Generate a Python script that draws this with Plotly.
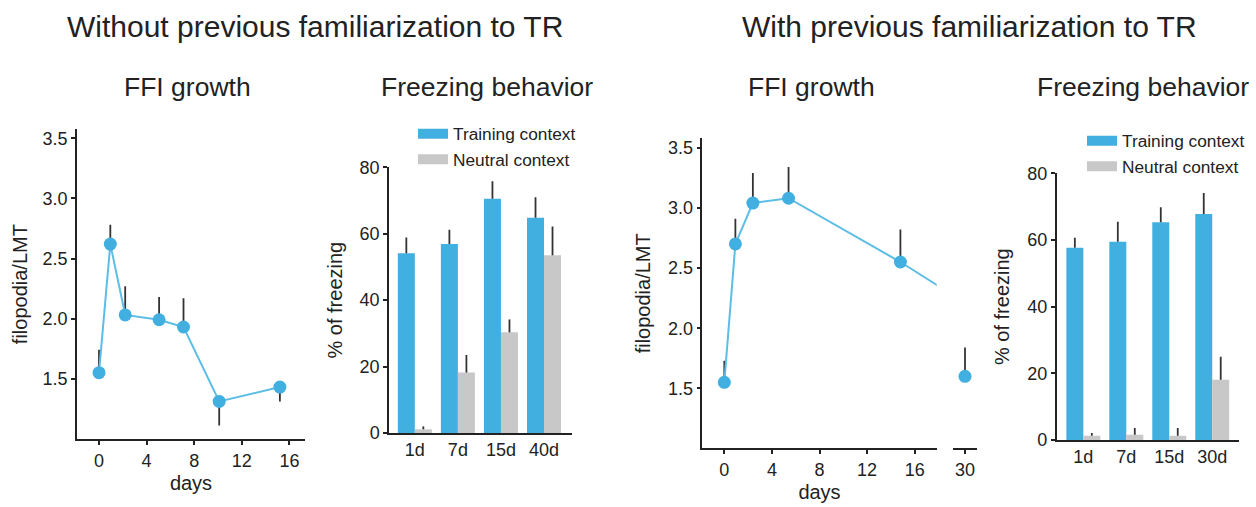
import plotly.graph_objects as go

W, H = 1256, 507

# ---------------- data ----------------
# Without previous familiarization: FFI growth
ffi_days_a = [0, 0.95, 2.2, 5.05, 7.1, 10.1, 15.2]
ffi_vals_a = [1.55, 2.62, 2.03, 1.99, 1.93, 1.31, 1.43]
ffi_err_up_a = [0.19, 0.16, 0.24, 0.19, 0.24, 0.0, 0.0]
ffi_err_dn_a = [0.0, 0.0, 0.0, 0.0, 0.0, 0.20, 0.12]

# With previous familiarization: FFI growth
ffi_days_b = [0, 0.93, 2.4, 5.4, 14.8, 30]
ffi_vals_b = [1.55, 2.70, 3.04, 3.08, 2.55, 1.60]
ffi_err_up_b = [0.18, 0.21, 0.25, 0.26, 0.27, 0.24]
ffi_err_dn_b = [0.0, 0.0, 0.0, 0.0, 0.0, 0.0]

# Freezing behavior (without)
freeze_cats_a = ["1d", "7d", "15d", "40d"]
train_a = [54.1, 56.9, 70.5, 64.8]
train_err_a = [4.8, 4.3, 5.3, 6.2]
neutral_a = [1.1, 18.2, 30.3, 53.5]
neutral_err_a = [0.9, 5.3, 3.9, 8.7]

# Freezing behavior (with)
freeze_cats_b = ["1d", "7d", "15d", "30d"]
train_b = [57.7, 59.5, 65.3, 67.8]
train_err_b = [3.0, 6.0, 4.5, 6.3]
neutral_b = [1.3, 1.6, 1.3, 18.1]
neutral_err_b = [0.8, 2.0, 2.3, 6.9]

ffi_ticks = [1.5, 2.0, 2.5, 3.0, 3.5]
day_ticks = [0, 4, 8, 12, 16]
break_ticks = [30]

# ---------------- style ----------------
FONT = "Liberation Sans, Arial, Helvetica, sans-serif"
TXT = "#222222"
BLUE = "#41afdf"
LINEBLUE = "#5cbde6"
GREY = "#c8c8c8"
ERR = "#333333"


def px(x):
    return x / W


def py(y):
    return 1 - y / H


fig = go.Figure()

err_style = dict(type="data", symmetric=False, color=ERR, thickness=1.8, width=0)

# Left FFI
fig.add_trace(go.Scatter(
    x=ffi_days_a, y=ffi_vals_a, mode="lines+markers",
    line=dict(color=LINEBLUE, width=2),
    marker=dict(color=BLUE, size=13),
    error_y=dict(array=ffi_err_up_a, arrayminus=ffi_err_dn_a, **err_style),
    xaxis="x", yaxis="y", showlegend=False))

# Left freezing
fig.add_trace(go.Bar(
    x=freeze_cats_a, y=train_a, marker=dict(color=BLUE, line=dict(width=0)),
    error_y=dict(array=train_err_a, arrayminus=[0] * 4, **err_style),
    xaxis="x2", yaxis="y2", showlegend=False, name="Training context"))
fig.add_trace(go.Bar(
    x=freeze_cats_a, y=neutral_a, marker=dict(color=GREY, line=dict(width=0)),
    error_y=dict(array=neutral_err_a, arrayminus=[0] * 4, **err_style),
    xaxis="x2", yaxis="y2", showlegend=False, name="Neutral context"))

# Right FFI (main segment)
fig.add_trace(go.Scatter(
    x=ffi_days_b, y=ffi_vals_b, mode="lines+markers",
    line=dict(color=LINEBLUE, width=2),
    marker=dict(color=BLUE, size=13),
    error_y=dict(array=ffi_err_up_b, arrayminus=ffi_err_dn_b, **err_style),
    xaxis="x3", yaxis="y3", showlegend=False))
# Right FFI (broken axis segment at day 30)
fig.add_trace(go.Scatter(
    x=ffi_days_b, y=ffi_vals_b, mode="markers",
    marker=dict(color=BLUE, size=13),
    error_y=dict(array=ffi_err_up_b, arrayminus=ffi_err_dn_b, **err_style),
    xaxis="x4", yaxis="y3", showlegend=False))

# Right freezing
fig.add_trace(go.Bar(
    x=freeze_cats_b, y=train_b, marker=dict(color=BLUE, line=dict(width=0)),
    error_y=dict(array=train_err_b, arrayminus=[0] * 4, **err_style),
    xaxis="x5", yaxis="y5", showlegend=False, name="Training context"))
fig.add_trace(go.Bar(
    x=freeze_cats_b, y=neutral_b, marker=dict(color=GREY, line=dict(width=0)),
    error_y=dict(array=neutral_err_b, arrayminus=[0] * 4, **err_style),
    xaxis="x5", yaxis="y5", showlegend=False, name="Neutral context"))

# Legend entries
for lg, xa, ya in [("legend", "x2", "y2"), ("legend2", "x5", "y5")]:
    fig.add_trace(go.Scatter(x=[None], y=[None], mode="lines", name="Training context",
                             line=dict(color=BLUE, width=13), legend=lg,
                             xaxis=xa, yaxis=ya, hoverinfo="skip"))
    fig.add_trace(go.Scatter(x=[None], y=[None], mode="lines", name="Neutral context",
                             line=dict(color=GREY, width=13), legend=lg,
                             xaxis=xa, yaxis=ya, hoverinfo="skip"))

axis_common = dict(
    showline=True, linecolor=TXT, linewidth=1.5, ticks="outside", ticklen=4,
    tickwidth=1.5, tickcolor=TXT, showgrid=False, zeroline=False, automargin=False,
    tickfont=dict(size=18, color=TXT, family=FONT),
)
title_font = dict(size=20, color=TXT, family=FONT)

fig.update_layout(
    width=W, height=H, autosize=False,
    margin=dict(l=0, r=0, t=0, b=0, pad=0, autoexpand=False),
    paper_bgcolor="white", plot_bgcolor="white",
    font=dict(family=FONT, color=TXT),
    barmode="group", bargap=0.21, bargroupgap=0,
    xaxis=dict(domain=[px(77), px(305)], range=[-1.85, 17.31], tickvals=day_ticks,
               anchor="y", title=dict(text="days", font=title_font, standoff=6), **axis_common),
    yaxis=dict(domain=[py(439.3), py(129)], range=[0.995, 3.578], tickvals=ffi_ticks,
               tickformat=".1f", anchor="x",
               title=dict(text="filopodia/LMT", font=title_font, standoff=10), **axis_common),
    xaxis2=dict(domain=[px(389), px(572)], range=[-0.6, 3.65], type="category",
                anchor="y2", **{**axis_common, "ticks": ""}),
    yaxis2=dict(domain=[py(433), py(167.3)], range=[0, 80], dtick=20, anchor="x2",
                title=dict(text="% of freezing", font=title_font, standoff=12), **axis_common),
    xaxis3=dict(domain=[px(702.3), px(936.7)], range=[-1.85, 17.85], tickvals=day_ticks,
                anchor="y3", title=dict(text="days", font=title_font, standoff=6), **axis_common),
    yaxis3=dict(domain=[py(448.3), py(138.3)], range=[1.002, 3.578], tickvals=ffi_ticks,
                tickformat=".1f", anchor="x3",
                title=dict(text="filopodia/LMT", font=title_font, standoff=12), **axis_common),
    xaxis4=dict(domain=[px(952.7), px(977.3)], range=[28.97, 31.03], tickvals=break_ticks,
                anchor="y3", **axis_common),
    xaxis5=dict(domain=[px(1056.7), px(1239.3)], range=[-0.62, 3.63], type="category",
                anchor="y5", **{**axis_common, "ticks": ""}),
    yaxis5=dict(domain=[py(440), py(173.3)], range=[0, 80], dtick=20, anchor="x5",
                title=dict(text="% of freezing", font=title_font, standoff=12), **axis_common),
    legend=dict(x=px(413), y=py(116), xanchor="left", yanchor="top",
                bgcolor="rgba(0,0,0,0)", font=dict(size=17.3, color=TXT, family=FONT),
                itemwidth=30, tracegroupgap=0),
    legend2=dict(x=px(1082), y=py(123), xanchor="left", yanchor="top",
                 bgcolor="rgba(0,0,0,0)", font=dict(size=17.3, color=TXT, family=FONT),
                 itemwidth=30, tracegroupgap=0),
)

titles = [
    ("Without previous familiarization to TR", 315, 26.7, 30),
    ("With previous familiarization to TR", 969, 26.7, 30),
    ("FFI growth", 187.5, 86.7, 26.5),
    ("Freezing behavior", 486.5, 86.7, 26.5),
    ("FFI growth", 811, 86.7, 26.5),
    ("Freezing behavior", 1142.5, 86.7, 26.5),
]
for text, cx, cy, size in titles:
    fig.add_annotation(text=text, x=px(cx), y=py(cy), xref="paper", yref="paper",
                       xanchor="center", yanchor="middle", showarrow=False,
                       font=dict(size=size, color=TXT, family=FONT))

fig.write_html("out.html", config={"displayModeBar": False},
               post_script="document.body.style.margin='0';")
